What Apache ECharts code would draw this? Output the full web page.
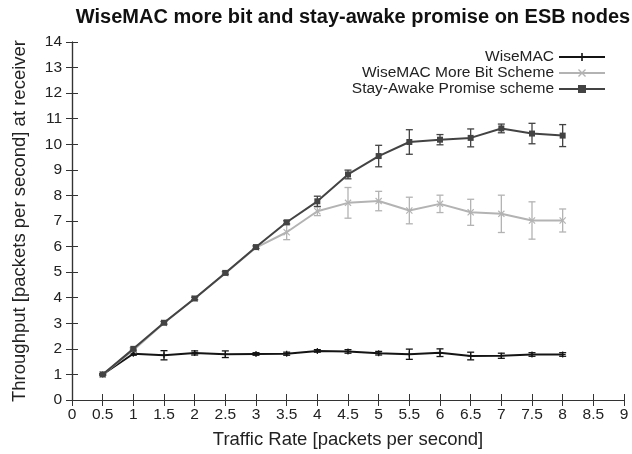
<!DOCTYPE html>
<html><head><meta charset="utf-8">
<script src="https://cdn.jsdelivr.net/npm/echarts@6/dist/echarts.min.js"></script>
<style>html,body{margin:0;padding:0;background:#fff}#c{width:632px;height:454px}</style>
</head><body><div id="c"></div>
<script>
var rates = [0.5,1,1.5,2,2.5,3,3.5,4,4.5,5,5.5,6,6.5,7,7.5,8];
var wiseMac      = [1.0,1.81,1.75,1.84,1.79,1.8,1.81,1.92,1.9,1.83,1.79,1.85,1.72,1.73,1.78,1.78];
var wiseMacErr   = [0.03,0.06,0.18,0.08,0.13,0.05,0.06,0.05,0.07,0.07,0.2,0.15,0.15,0.1,0.07,0.07];
var moreBit      = [1.0,1.95,3.01,3.97,4.96,5.96,6.56,7.38,7.71,7.78,7.41,7.67,7.34,7.28,7.02,7.02];
var moreBitErr   = [0.03,0.05,0.05,0.05,0.05,0.05,0.29,0.17,0.6,0.38,0.52,0.34,0.51,0.73,0.73,0.45];
var stayAwake    = [1.0,2.0,3.02,3.97,4.97,5.98,6.95,7.77,8.82,9.54,10.09,10.18,10.25,10.62,10.42,10.34];
var stayAwakeErr = [0.03,0.05,0.05,0.05,0.05,0.05,0.06,0.2,0.17,0.42,0.48,0.2,0.35,0.17,0.4,0.43];
var xTicks = [0,0.5,1,1.5,2,2.5,3,3.5,4,4.5,5,5.5,6,6.5,7,7.5,8,8.5,9];
var yTicks = [0,1,2,3,4,5,6,7,8,9,10,11,12,13,14];

var FONT = '"Liberation Sans", Arial, sans-serif';
var cBlack = '#141414', cLight = '#b3b3b3', cDark = '#434343';
var SYM_PLUS = 'path://M4,0H6V4H10V6H6V10H4V6H0V4H4Z';
var SYM_X = 'path://M0,1.2L1.2,0L5,3.8L8.8,0L10,1.2L6.2,5L10,8.8L8.8,10L5,6.2L1.2,10L0,8.8L3.8,5Z';

function pts(v){ return rates.map(function(x,i){return [x,v[i]];}); }
function errs(v,e){ return rates.map(function(x,i){return [x,v[i]-e[i],v[i]+e[i]];}); }
function errSeries(v,e,color){
  return {
    type:'custom', silent:true, z:3,
    data: errs(v,e),
    encode:{x:0,y:[1,2]},
    renderItem:function(params, api){
      var lo = api.coord([api.value(0), api.value(1)]);
      var hi = api.coord([api.value(0), api.value(2)]);
      var w = 3.5;
      var st = {stroke:color, lineWidth:1.3};
      return {type:'group', children:[
        {type:'line', shape:{x1:lo[0],y1:lo[1],x2:hi[0],y2:hi[1]}, style:st},
        {type:'line', shape:{x1:lo[0]-w,y1:lo[1],x2:lo[0]+w,y2:lo[1]}, style:st},
        {type:'line', shape:{x1:hi[0]-w,y1:hi[1],x2:hi[0]+w,y2:hi[1]}, style:st}
      ]};
    }
  };
}
function lineSeries(name, v, color, sym, size, z){
  return {
    name:name, type:'line', data:pts(v), z:z,
    symbol:sym, symbolSize:size, showAllSymbol:true,
    lineStyle:{color:color, width:2},
    itemStyle:{color:color},
    emphasis:{disabled:true}, animation:false
  };
}

var chart = echarts.init(document.getElementById('c'), null, {renderer:'canvas'});
chart.setOption({
  animation:false,
  backgroundColor:'#fff',
  title:{text:'WiseMAC more bit and stay-awake promise on ESB nodes', left:348, top:2, textAlign:'center',
    textStyle:{fontFamily:FONT, fontWeight:'bold', fontSize:20, color:'#111'}},
  legend:{
    orient:'vertical', right:21, top:44, align:'right',
    itemWidth:46, itemHeight:10, itemGap:0,
    textStyle:{fontFamily:FONT, fontSize:15.5, lineHeight:16, color:'#222'},
    data:['WiseMAC','WiseMAC More Bit Scheme','Stay-Awake Promise scheme']
  },
  grid:{left:72, right:8, top:42, bottom:53},
  xAxis:[{
    type:'value', min:0, max:9, interval:0.5,
    name:'Traffic Rate [packets per second]', nameLocation:'middle', nameGap:30,
    nameTextStyle:{fontFamily:FONT, fontSize:18.5, color:'#222'},
    axisLine:{lineStyle:{color:'#333', width:1.2}},
    axisTick:{inside:true, length:6, lineStyle:{color:'#333'}},
    axisLabel:{fontFamily:FONT, fontSize:15.5, color:'#222', margin:7},
    splitLine:{show:false}
  },{
    type:'value', position:'top', min:0, max:9, interval:0.5,
    axisLine:{show:true, lineStyle:{color:'#333', width:1.2}},
    axisTick:{inside:true, length:6, lineStyle:{color:'#333'}},
    axisLabel:{show:false}, splitLine:{show:false}
  }],
  yAxis:[{
    type:'value', min:0, max:14, interval:1,
    name:'Throughput [packets per second] at receiver', nameLocation:'middle', nameGap:43,
    nameTextStyle:{fontFamily:FONT, fontSize:18.5, color:'#222'},
    axisLine:{show:true, lineStyle:{color:'#333', width:1.2}},
    axisTick:{show:true, inside:true, length:6, lineStyle:{color:'#333'}},
    axisLabel:{fontFamily:FONT, fontSize:15.5, color:'#222', margin:10},
    splitLine:{show:false}
  },{
    type:'value', position:'right', min:0, max:14, interval:1,
    axisLine:{show:true, lineStyle:{color:'#333', width:1.2}},
    axisTick:{show:true, inside:true, length:6, lineStyle:{color:'#333'}},
    axisLabel:{show:false}, splitLine:{show:false}
  }],
  series:[
    errSeries(wiseMac, wiseMacErr, cBlack),
    lineSeries('WiseMAC', wiseMac, cBlack, SYM_PLUS, 6, 4),
    errSeries(moreBit, moreBitErr, cLight),
    lineSeries('WiseMAC More Bit Scheme', moreBit, cLight, SYM_X, 7, 5),
    errSeries(stayAwake, stayAwakeErr, cDark),
    lineSeries('Stay-Awake Promise scheme', stayAwake, cDark, 'rect', 6, 6)
  ]
});
</script></body></html>
